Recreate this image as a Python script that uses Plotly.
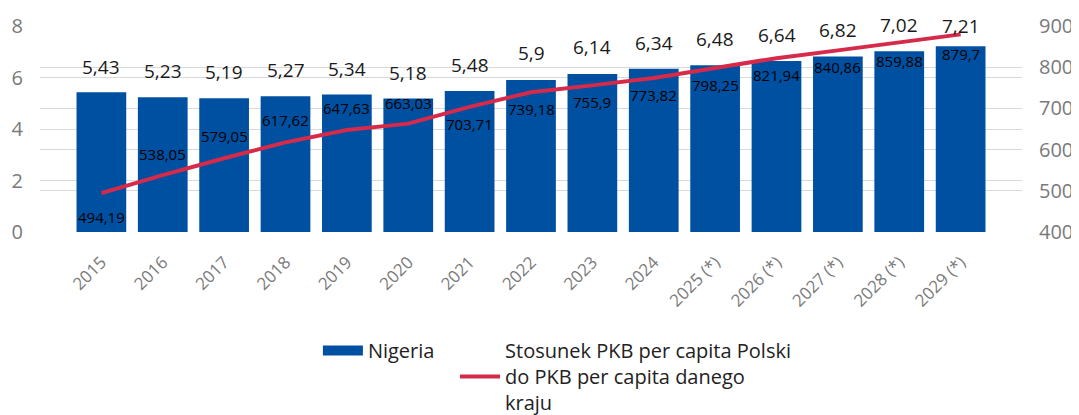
import plotly.graph_objects as go

years = ["2015", "2016", "2017", "2018", "2019", "2020", "2021", "2022", "2023", "2024",
         "2025 (*)", "2026 (*)", "2027 (*)", "2028 (*)", "2029 (*)"]
nigeria = [5.43, 5.23, 5.19, 5.27, 5.34, 5.18, 5.48, 5.9, 6.14, 6.34, 6.48, 6.64, 6.82, 7.02, 7.21]
ratio = [494.19, 538.05, 579.05, 617.62, 647.63, 663.03, 703.71, 739.18, 755.9, 773.82,
         798.25, 821.94, 840.86, 859.88, 879.7]

# label offsets in px (bar labels above bars, line labels above/below points)
bar_label_shift = [25, 26, 26, 26, 26, 26, 26, 27, 27, 26, 26, 26, 26, 26, 20]
ratio_label_shift = [-24, 21, 22, 22, 22, 21, -17, -17, -17, -17, -17, -17, -17, -18, -20]

BLUE = "#0050a2"
RED = "#d52a4a"
GRID = "#d9d9d9"
TICK = "#7a7a7a"
FONT = "Open Sans, Segoe UI, DejaVu Sans, sans-serif"


def pl(v):
    return str(v).replace(".", ",")


fig = go.Figure()

fig.add_trace(go.Bar(
    x=years, y=nigeria, name="Nigeria",
    marker=dict(color=BLUE, line=dict(width=0)),
    yaxis="y", showlegend=False,
))

# legend entry for the bars (wide swatch like the original)
fig.add_trace(go.Scatter(
    x=[None], y=[None], name="Nigeria\u00a0\u00a0\u00a0", mode="lines",
    line=dict(color=BLUE, width=20),
))

fig.add_trace(go.Scatter(
    x=years, y=ratio,
    name="Stosunek PKB per capita Polski<br>do PKB per capita danego<br>kraju",
    mode="lines", line=dict(color=RED, width=4),
    yaxis="y2",
))

# value labels above the bars
for i, (v, s) in enumerate(zip(nigeria, bar_label_shift)):
    fig.add_annotation(x=i, y=v, xref="x", yref="y", text=pl(v), showarrow=False,
                       yshift=s, font=dict(size=19, color="#1a1a1a"))

# value labels at the line points
for i, (v, s) in enumerate(zip(ratio, ratio_label_shift)):
    fig.add_annotation(x=i, y=v, xref="x", yref="y2", text=pl(v), showarrow=False,
                       yshift=s, font=dict(size=15, color="#000000"))

# page body adds an 8px offset, so the figure is drawn 8px smaller
fig.update_layout(
    width=1071, height=407,
    margin=dict(l=32, r=57, t=18, b=183, autoexpand=False),
    paper_bgcolor="white", plot_bgcolor="white",
    font=dict(family=FONT, color="#222222"),
    bargap=0.19,
    showlegend=True,
    xaxis=dict(
        type="category", range=[-1, 15], tickangle=-45,
        tickfont=dict(size=17, color=TICK),
        showgrid=False, showline=False, ticks="", ticklabelstandoff=16,
        automargin=False,
    ),
    yaxis=dict(
        range=[0, 8], dtick=2, tickfont=dict(size=20, color=TICK),
        showgrid=True, gridcolor=GRID, gridwidth=1, zeroline=False,
        ticks="", ticklabelstandoff=16, automargin=False,
    ),
    yaxis2=dict(
        range=[400, 900], dtick=100, overlaying="y", side="right",
        tickfont=dict(size=20, color=TICK),
        showgrid=True, gridcolor=GRID, gridwidth=1, zeroline=False,
        ticks="", ticklabelstandoff=16, automargin=False,
    ),
    legend=dict(
        orientation="h", x=0.283, y=-0.48, xanchor="left", yanchor="top",
        font=dict(size=20, color="#222222"), itemwidth=40,
        traceorder="normal", valign="middle",
    ),
)

fig.write_html("out.html")
